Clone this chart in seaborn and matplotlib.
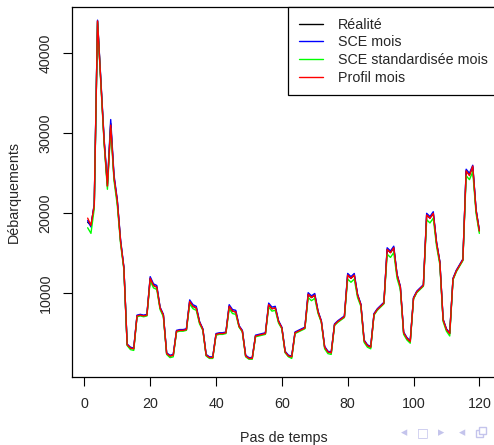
import numpy as np
import pandas as pd
import matplotlib
matplotlib.use("Agg")
import matplotlib.pyplot as plt
from matplotlib.lines import Line2D
from matplotlib.patches import Rectangle
import seaborn as sns

# Monthly landings, 120 time steps (10 years)
realite = [
    18900, 18500, 21000, 44000, 36500, 29000, 23400, 31200, 24500, 21500, 16500, 13200,
    3600, 3200, 3100, 7200, 7300, 7200, 7300, 11900, 11000, 10800, 8200, 7300,
    2500, 2200, 2300, 5300, 5400, 5400, 5500, 9000, 8400, 8200, 6400, 5500,
    2300, 2000, 2000, 4900, 5000, 5000, 5100, 8400, 7800, 7700, 5900, 5300,
    2200, 1900, 1900, 4700, 4800, 4900, 5000, 8600, 8100, 8200, 6500, 5700,
    2700, 2200, 2100, 5100, 5300, 5500, 5700, 9900, 9500, 9800, 7700, 6500,
    3300, 2700, 2600, 6100, 6500, 6800, 7100, 12300, 11900, 12300, 9800, 8600,
    4100, 3500, 3300, 7400, 8000, 8400, 8800, 15500, 15100, 15700, 12300, 10800,
    5100, 4400, 4000, 9400, 10200, 10600, 11000, 19800, 19400, 20000, 16300, 13900,
    6700, 5500, 5000, 11800, 12800, 13500, 14200, 25300, 24800, 25800, 20400, 17800,
]
sce_mois = [
    19100, 18300, 21200, 44100, 36700, 29300, 23700, 31700, 24800, 21700, 16700, 13300,
    3700, 3300, 3200, 7300, 7400, 7300, 7400, 12100, 11200, 11000, 8300, 7400,
    2600, 2300, 2400, 5400, 5500, 5500, 5600, 9200, 8600, 8400, 6500, 5600,
    2400, 2100, 2100, 5000, 5100, 5100, 5200, 8600, 8000, 7900, 6000, 5400,
    2300, 2000, 2000, 4800, 4900, 5000, 5100, 8800, 8300, 8400, 6600, 5800,
    2800, 2300, 2200, 5200, 5400, 5600, 5800, 10100, 9700, 10000, 7800, 6600,
    3400, 2800, 2700, 6200, 6600, 6900, 7200, 12500, 12100, 12500, 9900, 8700,
    4200, 3600, 3400, 7500, 8100, 8500, 8900, 15700, 15300, 15900, 12400, 10900,
    5200, 4500, 4100, 9500, 10300, 10700, 11100, 20000, 19600, 20200, 16400, 14000,
    6800, 5600, 5100, 11900, 12900, 13600, 14300, 25500, 25000, 26000, 20500, 17900,
]
sce_std_mois = [
    18200, 17500, 20600, 43800, 36200, 28700, 23000, 30600, 24100, 21000, 16200, 13000,
    3500, 3000, 2900, 7100, 7200, 7100, 7200, 11600, 10700, 10500, 8000, 7100,
    2400, 2000, 2100, 5200, 5300, 5300, 5400, 8700, 8100, 7900, 6200, 5400,
    2200, 1900, 1900, 4800, 4900, 4900, 5000, 8100, 7500, 7400, 5800, 5200,
    2100, 1800, 1800, 4600, 4700, 4800, 4900, 8300, 7800, 7900, 6300, 5600,
    2600, 2100, 1900, 5000, 5200, 5400, 5600, 9500, 9100, 9400, 7500, 6400,
    3100, 2500, 2400, 6000, 6400, 6700, 7000, 11800, 11400, 11800, 9500, 8400,
    3900, 3300, 3100, 7300, 7900, 8300, 8700, 14900, 14500, 15100, 11900, 10500,
    4900, 4200, 3800, 9300, 10100, 10500, 10900, 19200, 18800, 19400, 15900, 13600,
    6500, 5300, 4700, 11700, 12700, 13400, 14100, 24700, 24200, 25200, 20000, 17500,
]
profil_mois = [
    19400, 18500, 21000, 44000, 36400, 29000, 23400, 31000, 24500, 21500, 16500, 13200,
    3600, 3200, 3100, 7200, 7300, 7200, 7300, 11900, 11000, 10800, 8200, 7300,
    2500, 2200, 2300, 5300, 5400, 5400, 5500, 9000, 8400, 8200, 6400, 5500,
    2300, 2000, 2000, 4900, 5000, 5000, 5100, 8400, 7800, 7700, 5900, 5300,
    2200, 1900, 1900, 4700, 4800, 4900, 5000, 8600, 8100, 8200, 6500, 5700,
    2700, 2200, 2100, 5100, 5300, 5500, 5700, 9900, 9500, 9800, 7700, 6500,
    3300, 2700, 2600, 6100, 6500, 6800, 7100, 12300, 11900, 12300, 9800, 8600,
    4100, 3500, 3300, 7400, 8000, 8400, 8800, 15500, 15100, 15700, 12300, 10800,
    5100, 4400, 4000, 9400, 10200, 10600, 11000, 19800, 19400, 20000, 16300, 13900,
    6700, 5500, 5000, 11800, 12800, 13500, 14200, 25300, 24700, 25900, 20400, 17800,
]

series_names = ["Réalité", "SCE mois", "SCE standardisée mois", "Profil mois"]
series_colors = ["#000000", "#0000FF", "#00FF00", "#FF0000"]
x_ticks = [0, 20, 40, 60, 80, 100, 120]
y_ticks = [10000, 20000, 30000, 40000]

steps = np.arange(1, len(realite) + 1)
df = pd.concat([
    pd.DataFrame({"pas": steps, "valeur": vals, "serie": name})
    for name, vals in zip(series_names, [realite, sce_mois, sce_std_mois, profil_mois])
], ignore_index=True)

sns.set_style("white")
plt.rcParams["font.family"] = ["Liberation Sans", "DejaVu Sans"]
FS = 10.3

W, H = 494, 445
fig = plt.figure(figsize=(W / 100, H / 100), dpi=100)
left, right, top, bottom = 72.0, 495.0, 7.0, 376.7
ax = fig.add_axes([left / W, 1 - bottom / H, (right - left) / W, (bottom - top) / H])

sns.lineplot(data=df, x="pas", y="valeur", hue="serie", hue_order=series_names,
             palette=dict(zip(series_names, series_colors)), linewidth=1.0,
             legend=False, ax=ax)

ax.set_xlim(-3.76, 124.76)
ax.set_ylim(-380, 45740)
ax.set_xticks(x_ticks)
ax.set_xticklabels([str(v) for v in x_ticks], fontsize=FS)
ax.set_yticks(y_ticks)
ax.set_yticklabels([str(v) for v in y_ticks], fontsize=FS, rotation=90, va="center")
ax.tick_params(axis="both", direction="out", length=6.5, width=0.8, color="black",
               left=True, bottom=True)
ax.tick_params(axis="x", pad=8)
ax.tick_params(axis="y", pad=7.5)
for sp in ax.spines.values():
    sp.set_visible(True)
    sp.set_color("black")
    sp.set_linewidth(0.9)

ax.set_xlabel("")
ax.set_ylabel("")
fig.text(283.5 / W, 1 - 438 / H, "Pas de temps", ha="center", va="center", fontsize=FS)
fig.text(14 / W, 1 - 192 / H, "Débarquements", ha="center", va="center",
         rotation=90, fontsize=FS)

handles = [Line2D([0], [0], color=c, lw=1.0) for c in series_colors]
leg = ax.legend(handles, series_names, loc="upper left",
                bbox_to_anchor=(288.3 / W, 1 - 7.3 / H), bbox_transform=fig.transFigure,
                fontsize=FS, frameon=True, fancybox=False, framealpha=1,
                edgecolor="black", borderpad=0.72, handlelength=1.7,
                handletextpad=1.05, labelspacing=0.27, borderaxespad=0)
leg.get_frame().set_linewidth(0.9)

# navigation symbols in the lower right corner
nav_color = "#c4c4ec"
for xpos, sym in [(404.3, "◂"), (422.7, "□"), (441, "▸"), (461.7, "◂")]:
    fig.text(xpos / W, 1 - 433 / H, sym, ha="center", va="center", fontsize=9,
             color=nav_color, family=["DejaVu Sans"])
# overlapping-windows symbol drawn as two small frames
for x0, y0 in [(476.0, 430.0), (479.0, 427.0)]:
    fig.add_artist(Rectangle((x0 / W, 1 - (y0 + 7) / H), 7 / W, 7 / H,
                             transform=fig.transFigure, fill=True, facecolor="white",
                             edgecolor=nav_color, linewidth=1.0))

fig.savefig("out.png", dpi=100)
